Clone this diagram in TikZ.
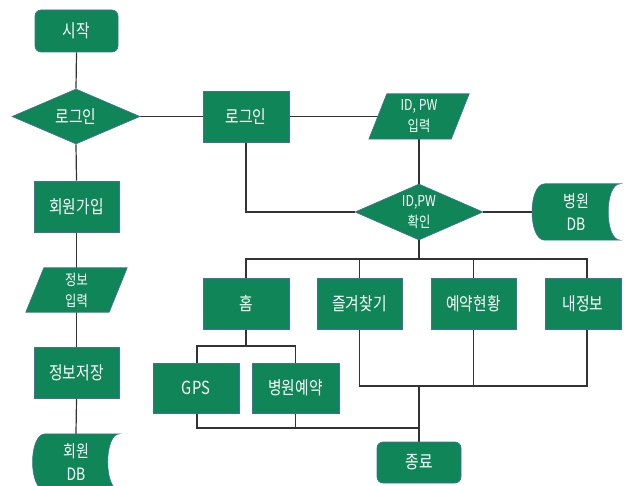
\documentclass[tikz,border=0pt]{standalone}
\usepackage{fontspec}
\setmainfont{Noto Sans CJK KR}
\newfontfamily\kf[FakeStretch=0.82]{Noto Sans CJK KR}
\usetikzlibrary{shapes.geometric,backgrounds,calc}
\definecolor{grn}{HTML}{0F8558}
\definecolor{bordc}{HTML}{41719C}
\definecolor{lnc}{HTML}{333333}
\tikzset{
  box/.style={draw=bordc, line width=0.6pt, fill=grn, text=white, inner sep=0pt,
    font=\kf\fontsize{18}{20}\selectfont},
  proc/.style={box, rectangle, minimum width=86, minimum height=51},
  term/.style={box, rectangle, rounded corners=6, minimum width=83, minimum height=42},
  dec/.style={box, diamond, minimum width=128, minimum height=55},
  io/.style={rectangle, draw=none, fill=none, text=white, inner sep=0pt, align=center,
    minimum width=100, minimum height=44, font=\kf\fontsize{15}{21}\selectfont},
  dbnode/.style={rectangle, draw=none, fill=none, text=white, inner sep=0pt, align=center,
    minimum width=88, minimum height=56, font=\kf\fontsize{17}{23}\selectfont},
  shapefill/.style={draw=bordc, line width=0.6pt, fill=grn},
  intext/.style={text=white, align=center, inner sep=0pt, font=\kf\fontsize{15}{21}\selectfont},
  onetext/.style={text=white, align=center, inner sep=0pt, font=\kf\fontsize{18}{20}\selectfont},
  conn/.style={draw=lnc, line width=1.2pt},
}
\begin{document}
\begin{tikzpicture}[x=1pt, y=-1pt]
\useasboundingbox (0,0) rectangle (637,486);
% left column
\node[term] (start) at (76.5,31) {시작};
\node[dec, label={[onetext, name=d1t]center:로그인}] (d1) at (76,116.5) {};
\node[proc, minimum width=85] (join) at (76.5,206.5) {회원가입};
\node[io, minimum width=101] (infoin) at (76.5,290) {정보\\입력};
\node[proc, minimum width=85] (save) at (76.5,372.5) {정보저장};
\node[dbnode, minimum width=87] (mdb) at (76,462) {회원\\DB};
% login branch
\node[proc] (login) at (246,116.5) {로그인};
\node[io, minimum height=45] (idin) at (419,116.5) {ID, PW\\입력};
\node[dec, minimum height=56, label={[intext, name=d2t]center:{ID,PW\\확인}}] (d2) at (419,212) {};
\node[dbnode] (hdb) at (576,212) {병원\\DB};
% menu row
\node[proc] (home) at (246,303.5) {홈};
\node[proc, minimum width=85] (fav) at (359.5,303.5) {즐겨찾기};
\node[proc, minimum width=85] (resv) at (473.5,303.5) {예약현황};
\node[proc, minimum width=76] (myinfo) at (583,303.5) {내정보};
\node[proc, minimum height=50] (gps) at (196,388) {GPS};
\node[proc, minimum width=87, minimum height=50] (hosp) at (295.5,388) {병원예약};
\node[term, minimum width=84, minimum height=41] (end) at (419,462.5) {종료};
% junction points
\coordinate (b1) at (419,259);
\coordinate (b2) at (246,346);
\coordinate (b3) at (419,386);
\coordinate (b4) at (419,428);
\coordinate (mtop) at ([xshift=4]myinfo.north);
\coordinate (mbot) at ([xshift=4]myinfo.south);
\begin{scope}[on background layer]
  \draw[conn] (start.south) -- (d1.north);
  \draw[conn] (d1.south) -- (join.north);
  \draw[conn] (join.south) -- (infoin.north);
  \draw[conn] (infoin.south) -- (save.north);
  \draw[conn] (save.south) -- (mdb.north);
  \draw[conn] (d1.east) -- (login.west);
  \draw[conn] (login.east) -- ([xshift=9]idin.west);
  \draw[conn] (idin.south) -- (d2.north);
  \draw[conn] (login.south) |- (d2.west);
  \draw[conn] (d2.east) -- (hdb.west);
  \draw[conn] (d2.south) -- (b1);
  \draw[conn] (home.north) |- (b1) -| (mtop);
  \draw[conn] (fav.north) -- (fav.north |- b1);
  \draw[conn] (resv.north) -- (resv.north |- b1);
  \draw[conn] (home.south) -- (b2);
  \draw[conn] ([xshift=1]gps.north) |- (b2) -| (hosp.north);
  \draw[conn] (fav.south) |- (b3) -| (mbot);
  \draw[conn] (resv.south) -- (resv.south |- b3);
  \draw[conn] (b3) -- (end.north);
  \draw[conn] ([xshift=1]gps.south) |- (b4);
  \draw[conn] (hosp.south) -- (hosp.south |- b4);
  \foreach \nm in {mdb,hdb} {
    \filldraw[shapefill] ([xshift=13]\nm.north west) -- (\nm.north east)
      .. controls ([xshift=-16]\nm.north east) and ([xshift=-16]\nm.south east) .. (\nm.south east)
      -- ([xshift=13]\nm.south west)
      .. controls ([xshift=-4]\nm.south west) and ([xshift=-4]\nm.north west) .. cycle;
  }
  \foreach \nm in {infoin,idin} {
    \filldraw[shapefill] ([xshift=18]\nm.north west) -- (\nm.north east)
      -- ([xshift=-18]\nm.south east) -- (\nm.south west) -- cycle;
  }
\end{scope}
\end{tikzpicture}
\end{document}
